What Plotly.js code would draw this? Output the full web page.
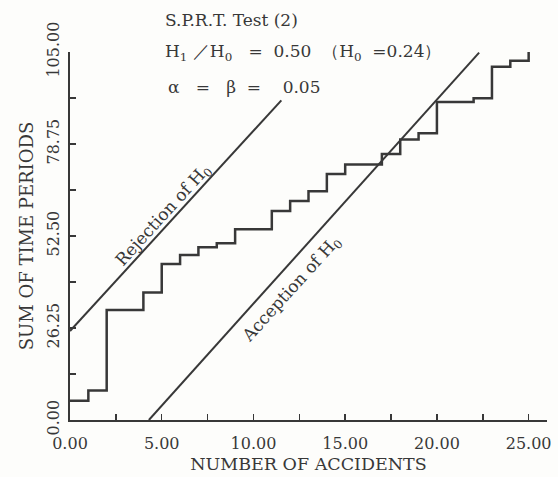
<!DOCTYPE html>
<html>
<head>
<meta charset="utf-8">
<script src="https://cdn.plot.ly/plotly-3.0.1.min.js"></script>
<style>html,body{margin:0;padding:0;background:#fdfdfb;}#chart{width:558px;height:477px;}</style>
</head>
<body>
<div id="chart"></div>
<script>
// Cumulative path (step): number of accidents vs sum of time periods
var accidents = [0, 1, 2, 4, 5, 6, 7, 8, 9, 11, 12, 13, 14, 15, 17, 18, 19, 20, 22, 23, 24, 25];
var sumPeriods = [5.5, 8.4, 31.4, 36.4, 44.5, 47.1, 49.3, 50.4, 54.4, 59.6, 62.5, 65.3, 70.2, 72.9, 75.9, 80.0, 81.8, 90.7, 91.8, 100.8, 102.5, 105.1];

// Decision boundaries
var rejectionX = [0, 11.52];
var rejectionY = [25.4, 91.2];
var acceptanceX = [4.3, 22.3];
var acceptanceY = [0, 104.8];

// Axis ticks
var xTickVals = [0, 5, 10, 15, 20, 25];
var xTickText = ["0.00", "5.00", "10.00", "15.00", "20.00", "25.00"];
var yTickVals = [0, 26.25, 52.5, 78.75, 105];
var yTickText = ["0.00", "26.25", "52.50", "78.75", "105.00"];

var ink = '#383838';
var serif = 'DejaVu Serif, Liberation Serif, serif';
var sp = '\u00a0';
function gap(n) { return sp.repeat(n); }

var traces = [
  {x: rejectionX, y: rejectionY, mode: 'lines', line: {color: ink, width: 2}, hoverinfo: 'skip', showlegend: false},
  {x: acceptanceX, y: acceptanceY, mode: 'lines', line: {color: ink, width: 2}, hoverinfo: 'skip', showlegend: false},
  {x: accidents, y: sumPeriods, mode: 'lines', line: {color: ink, width: 2.5, shape: 'hv'}, showlegend: false}
];

var layout = {
  width: 558, height: 477,
  margin: {l: 70, r: 11, t: 52, b: 57},
  paper_bgcolor: '#fdfdfb', plot_bgcolor: '#fdfdfb',
  font: {family: serif, color: ink, size: 17},
  title: {text: 'S.P.R.T. Test (2)', x: 165/558, xanchor: 'left', xref: 'container',
          y: 1 - 20/477, yanchor: 'middle', yref: 'container',
          font: {family: serif, size: 17, color: ink}},
  xaxis: {
    range: [0, 26], showgrid: false, zeroline: false,
    showline: true, linecolor: ink, linewidth: 2,
    tickvals: xTickVals, ticktext: xTickText,
    ticks: 'inside', ticklen: 6, tickcolor: ink, tickwidth: 1.5,
    minor: {dtick: 2.5, ticks: 'inside', ticklen: 6, tickcolor: ink, tickwidth: 1.5, showgrid: false},
    ticklabelstandoff: 8,
    tickfont: {family: serif, size: 16, color: ink},
    title: {text: 'NUMBER OF ACCIDENTS', font: {family: serif, size: 17.5, color: ink}, standoff: 6}
  },
  yaxis: {
    range: [0, 105], showgrid: false, zeroline: false,
    showline: true, linecolor: ink, linewidth: 2,
    tickvals: yTickVals, ticktext: yTickText, tickangle: -90,
    ticks: 'inside', ticklen: 6, tickcolor: ink, tickwidth: 1.5,
    minor: {dtick: 13.125, ticks: 'inside', ticklen: 6, tickcolor: ink, tickwidth: 1.5, showgrid: false},
    ticklabelstandoff: 3,
    tickfont: {family: serif, size: 16, color: ink},
    title: {text: 'SUM OF TIME PERIODS', font: {family: serif, size: 18, color: ink}, standoff: 5}
  },
  annotations: [
    {xref: 'paper', yref: 'paper', x: (163-70)/477, y: (420-53)/368, xanchor: 'left', yanchor: 'middle', showarrow: false,
     text: 'H<sub>1</sub>' + gap(1) + '／H<sub>0</sub>' + gap(3) + '=' + gap(2) + '0.50' + gap(2) + '（H<sub>0</sub>' + gap(2) + '=0.24）',
     font: {family: serif, size: 17, color: ink}},
    {xref: 'paper', yref: 'paper', x: (166-70)/477, y: (420-87)/368, xanchor: 'left', yanchor: 'middle', showarrow: false,
     text: 'α' + gap(3) + '=' + gap(3) + 'β' + gap(2) + '=' + gap(4) + '0.05',
     font: {family: serif, size: 17, color: ink}},
    {x: 5.1, y: 58.4, xref: 'x', yref: 'y', showarrow: false, textangle: -47.7,
     text: 'Rejection of H<sub>0</sub>', font: {family: serif, size: 17, color: ink}},
    {x: 12.1, y: 37.1, xref: 'x', yref: 'y', showarrow: false, textangle: -47.7,
     text: 'Acception of H<sub>0</sub>', font: {family: serif, size: 17, color: ink}}
  ]
};

Plotly.newPlot('chart', traces, layout, {displayModeBar: false, staticPlot: true});
</script>
</body>
</html>
